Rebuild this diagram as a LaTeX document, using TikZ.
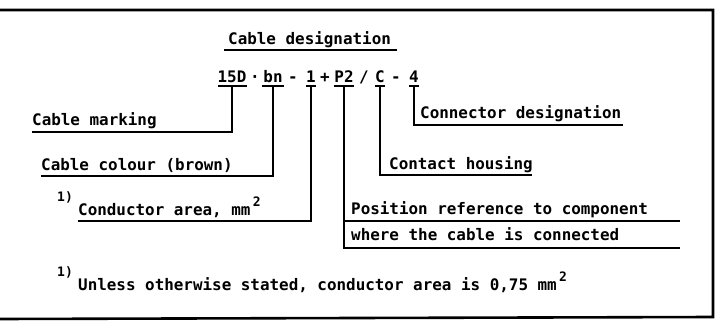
\documentclass[tikz,border=0pt]{standalone}
\usepackage{fontspec}
\setmonofont{DejaVu Sans Mono}
\begin{document}
\begin{tikzpicture}[x=1pt,y=-1pt,
  txt/.style={anchor=base west,inner sep=0pt,font=\ttfamily\bfseries\fontsize{15.9}{18}\selectfont},
  code/.style={anchor=base,inner sep=0pt,font=\ttfamily\bfseries\fontsize{15.9}{18}\selectfont},
  sup/.style={anchor=base west,inner sep=0pt,font=\ttfamily\bfseries\fontsize{13}{15}\selectfont},
  conn/.style={line width=1.6pt},
  frame/.style={line width=2.6pt}]
\useasboundingbox (0,0) rectangle (720,334);
% frame
\draw[frame] (0,10) -- (713,10) -- (713,317) -- (0,319);
% title
\node[txt] (title) at (228,45) {Cable designation};
\draw[conn] (224,50) -- (397,50);
% code
\node[code] (c1) at (232,83) {15D};
\node[code] (s1) at (255,83) {·};
\node[code] (c2) at (273,83) {bn};
\node[code] (s2) at (293,83) {-};
\node[code] (c3) at (311,83) {1};
\node[code] (s3) at (325,83) {+};
\node[code] (c4) at (344,83) {P2};
\node[code] (s4) at (364,83) {/};
\node[code] (c5) at (380,83) {C};
\node[code] (s5) at (396,83) {-};
\node[code] (c6) at (414,83) {4};
% bars
\coordinate (b1) at (232,86);
\coordinate (b2) at (273,86);
\coordinate (b3) at (311,86);
\coordinate (b4) at (344,86);
\coordinate (b5) at (380,86);
\coordinate (b6) at (414,86);
\draw[conn] (218,86) -- (247,86);
\draw[conn] (262,86) -- (284,86);
\draw[conn] (306,86) -- (316,86);
\draw[conn] (334,86) -- (354,86);
\draw[conn] (375,86) -- (385,86);
\draw[conn] (409,86) -- (419,86);
% labels
\node[txt] (mark) at (32,126) {Cable marking};
\coordinate (markend) at (32,132);
\draw[conn] (b1) |- (markend);
\node[txt] (conn) at (420,119) {Connector designation};
\coordinate (connend) at (623,125);
\draw[conn] (b6) |- (connend);
\node[txt] (colour) at (41,171) {Cable colour (brown)};
\coordinate (colourend) at (41,176);
\draw[conn] (b2) |- (colourend);
\node[txt] (housing) at (389,169) {Contact housing};
\coordinate (housingend) at (532,175);
\draw[conn] (b5) |- (housingend);
\node[sup] (fn1) at (57,201) {1)};
\node[txt] (area) at (78,215) {Conductor area, mm};
\node[sup] (sq1) at (area.base east) [yshift=9pt,xshift=2pt] {2};
\coordinate (areaend) at (78,221);
\draw[conn] (b3) |- (areaend);
\node[txt] (pos1) at (351,214) {Position reference to component};
\node[txt] (pos2) at (351,240) {where the cable is connected};
\coordinate (pos1end) at (680,221);
\coordinate (pos2end) at (680,248);
\draw[conn] (b4) |- (pos2end);
\draw[conn] (b4 |- pos1end) -- (pos1end);
% footnote
\node[sup] (fn2) at (57,276) {1)};
\node[txt] (note) at (78,290) {Unless otherwise stated, conductor area is 0,75 mm};
\node[sup] (sq2) at (note.base east) [yshift=9pt,xshift=2pt] {2};
\end{tikzpicture}
\end{document}
